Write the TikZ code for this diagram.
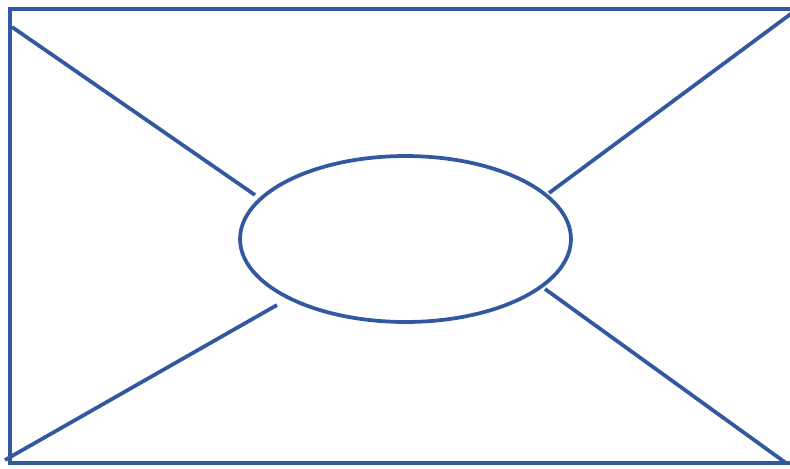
\documentclass[tikz,border=0pt]{standalone}
\usepackage{xcolor}
\usepackage{tikz}
\usetikzlibrary{shapes.geometric}
\definecolor{edgeblue}{RGB}{50,88,160}

\begin{document}
\begin{tikzpicture}[
    x=0.02cm, y=-0.02cm,
    frame/.style={draw=edgeblue, line width=0.075cm},
    hub/.style={ellipse, draw=edgeblue, line width=0.075cm, minimum width=6.62cm, minimum height=3.32cm, inner sep=0pt},
    spoke/.style={draw=edgeblue, line width=0.075cm}
]
    \useasboundingbox (0,0) rectangle (790,468);
    \node[hub] (center) at (405.5,239) {};

    % Corners and spoke ends
    \coordinate (tl) at (12,27);
    \coordinate (tr) at (792,13);
    \coordinate (bl) at (5,460);
    \coordinate (br) at (786,463);
    \coordinate (tl_end) at (255,195);
    \coordinate (tr_end) at (549,193);
    \coordinate (bl_end) at (277,305);
    \coordinate (br_end) at (545,289);

    % Frame
    \draw[frame] (792,9) -- (10,9) -- (10,463) -- (792,463);

    % Spokes
    \draw[spoke] (tl) -- (tl_end);
    \draw[spoke] (tr) -- (tr_end);
    \draw[spoke] (bl) -- (bl_end);
    \draw[spoke] (br) -- (br_end);
\end{tikzpicture}
\end{document}
